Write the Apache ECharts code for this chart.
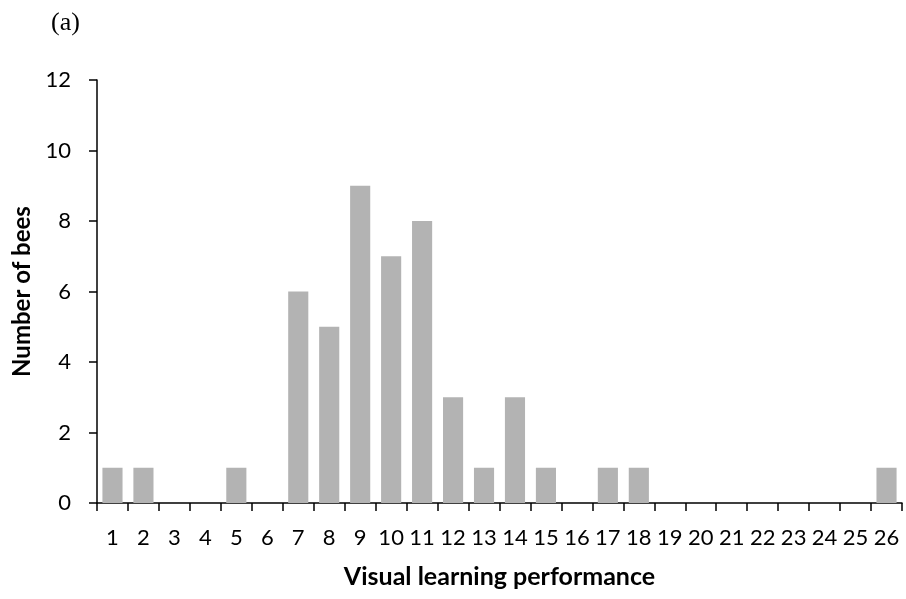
<!DOCTYPE html>
<html><head><meta charset="utf-8">
<script src="https://cdn.jsdelivr.net/npm/echarts@6/dist/echarts.min.js"></script>
<style>html,body{margin:0;padding:0;background:#fff}#c{width:906px;height:599px}</style>
</head><body><div id="c"></div>
<script>
const categories = ['1','2','3','4','5','6','7','8','9','10','11','12','13','14','15','16','17','18','19','20','21','22','23','24','25','26'];
const beeCounts = [1,1,0,0,1,0,6,5,9,7,8,3,1,3,1,0,1,1,0,0,0,0,0,0,0,1];
const yTicks = [0,2,4,6,8,10,12];

const chart = echarts.init(document.getElementById('c'), null, {renderer:'canvas'});
const font = 'Lato, "Open Sans", sans-serif';
chart.setOption({
  animation:false,
  title:{text:'(a)', left:51, top:10, padding:0, textStyle:{fontFamily:'"Liberation Serif", serif', fontSize:26, fontWeight:'normal', color:'#000'}},
  grid:{left:97, right:4, top:80, bottom:96, containLabel:false},
  xAxis:{
    type:'category', data:categories,
    name:'Visual learning performance', nameLocation:'middle', nameGap:61,
    nameTextStyle:{fontFamily:font, fontSize:25, fontWeight:'bold', color:'#000'},
    axisLine:{lineStyle:{color:'#000', width:1.5}},
    axisTick:{show:true, length:8, lineStyle:{color:'#000', width:1.5}},
    axisLabel:{fontFamily:font, fontSize:22, color:'#000', margin:24, interval:0}
  },
  yAxis:{
    type:'value', min:yTicks[0], max:yTicks[yTicks.length-1], interval:2,
    name:'Number of bees', nameLocation:'middle', nameGap:63, nameRotate:90,
    nameTextStyle:{fontFamily:font, fontSize:24, fontWeight:'bold', color:'#000'},
    axisLine:{show:true, lineStyle:{color:'#000', width:1.5}},
    axisTick:{show:true, length:8, lineStyle:{color:'#000', width:1.5}},
    splitLine:{show:false},
    axisLabel:{fontFamily:font, fontSize:22, color:'#000', margin:26}
  },
  series:[{type:'bar', data:beeCounts, barCategoryGap:'35%', itemStyle:{color:'#b3b3b3'}}]
});
</script></body></html>
